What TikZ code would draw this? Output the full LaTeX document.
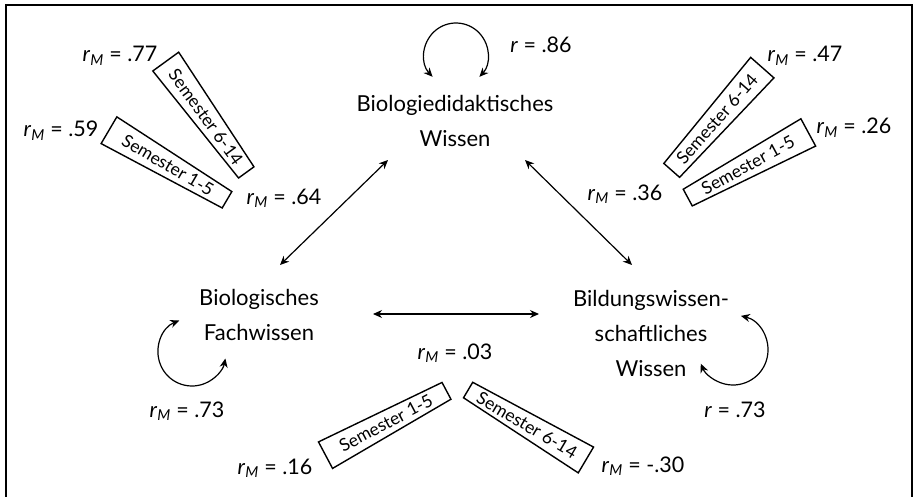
\documentclass[tikz,border=0pt]{standalone}
\usepackage{fontspec}
\setmainfont{Lato}
\usetikzlibrary{arrows.meta,calc}
\newcommand{\rMx}{\textit{r}\textsubscript{\textit{M}}}
% tapered semester box: name, centre, angle, text, left half-width, right half-width
\newcommand{\sembox}[6]{%
  \begin{scope}[shift={#2},rotate=#3]
    \draw[semframe] (-68.5,-#5) -- (68.5,-#6) -- (68.5,#6) -- (-68.5,#5) -- cycle;
    \node[semtext, transform shape] (#1) at (0,0) {#4};
  \end{scope}}
\begin{document}
\begin{tikzpicture}[x=1pt,y=1pt,
 lbl/.style={font=\fontsize{21.5}{24}\selectfont, inner sep=0, anchor=base},
 concept/.style={font=\fontsize{22}{35}\selectfont, align=center, inner sep=0},
 semframe/.style={line width=1.4pt, line join=miter},
 semtext/.style={font=\fontsize{17.5}{20}\selectfont, inner sep=0},
 conn/.style={line width=1.2pt, {Stealth[length=9pt,width=8pt]}-{Stealth[length=9pt,width=8pt]}},
]
\useasboundingbox (0,0) rectangle (917,-497);
\draw[line width=2.5pt] (6,-497) -- (6,-5) -- (912,-5) -- (912,-497);

% concept nodes
\node[concept] (bd) at (455,-121) {Biologiedidaktisches\\Wissen};
\node[concept] (bf) at (259,-315) {Biologisches\\Fachwissen};
\node[concept] (bw) at (651,-333) {Bildungswissen-\\schaftliches\\Wissen};

% connectors
\coordinate (a1) at (388,-160);
\coordinate (a2) at (280,-265);
\coordinate (b1) at (525,-160);
\coordinate (b2) at (632,-265);
\coordinate (c1) at (373,-314);
\coordinate (c2) at (539,-314);
\draw[conn] (a1) -- (a2);
\draw[conn] (b1) -- (b2);
\draw[conn] (c1) -- (c2);

% self loops
\coordinate (lt) at (456,-55);
\coordinate (ll) at (192,-352);
\coordinate (lr) at (733,-350);
\draw[conn] ($(lt)+(223:32)$) arc[start angle=223, end angle=-43, radius=32];
\draw[conn] ($(ll)+(112:34)$) arc[start angle=112, end angle=349, radius=34];
\draw[conn] ($(lr)+(77:35)$) arc[start angle=77, end angle=-157, radius=35];

% labels
\node[lbl] (l86) at (541,-53) {\textit{r} = .86};
\node[lbl] (l77) at (120,-62) {\rMx{} = .77};
\node[lbl] (l59) at (61,-137) {\rMx{} = .59};
\node[lbl] (l64) at (284,-204) {\rMx{} = .64};
\node[lbl] (l47) at (805,-62) {\rMx{} = .47};
\node[lbl] (l26) at (854,-134) {\rMx{} = .26};
\node[lbl] (l36) at (625,-200) {\rMx{} = .36};
\node[lbl] (l73a) at (187,-417) {\rMx{} = .73};
\node[lbl] (l73b) at (735,-417) {\textit{r} = .73};
\node[lbl] (l03) at (455,-359) {\rMx{} = .03};
\node[lbl] (l16) at (275,-474) {\rMx{} = .16};
\node[lbl] (l30) at (643,-472) {\rMx{} = -.30};

% semester boxes
\sembox{s1}{(206,-117)}{-54}{Semester 6-14}{16}{9.5}
\sembox{s2}{(168,-165)}{-30.5}{Semester 1-5}{15.5}{9.5}
\sembox{s3}{(717,-119)}{48.6}{Semester 6-14}{10.5}{15.5}
\sembox{s4}{(748,-165)}{28.4}{Semester 1-5}{9.5}{15.5}
\sembox{s5}{(386,-423)}{28}{Semester 1-5}{15}{9.5}
\sembox{s6}{(527,-425)}{-30.7}{Semester 6-14}{9}{15}
\end{tikzpicture}
\end{document}
